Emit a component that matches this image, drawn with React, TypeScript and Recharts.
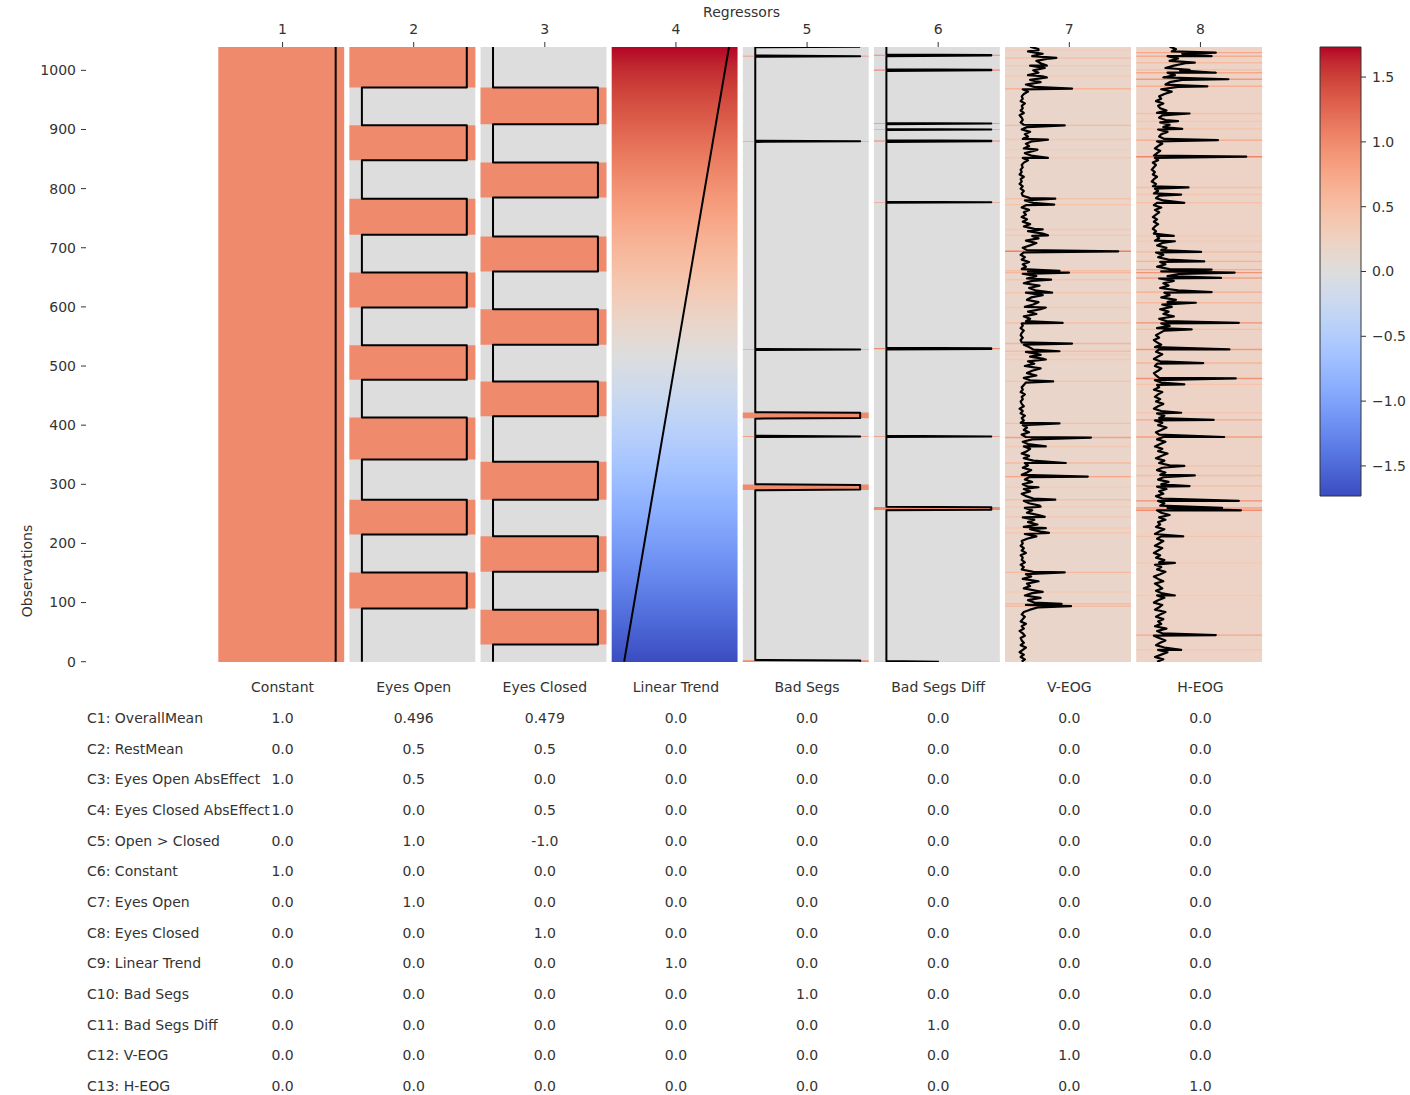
import React from "react";
import { ComposedChart, Line, XAxis, YAxis, ReferenceArea } from "recharts";

// ---- design matrix data ----
const N_OBS = 1040;
const VMAX = 1.732;

const regressorNames = ["Constant", "Eyes Open", "Eyes Closed", "Linear Trend", "Bad Segs", "Bad Segs Diff", "V-EOG", "H-EOG"];
const regressorTicks = [1, 2, 3, 4, 5, 6, 7, 8];
const obsTicks = [0, 100, 200, 300, 400, 500, 600, 700, 800, 900, 1000];
const colorbarTicks = [-1.5, -1, -0.5, 0, 0.5, 1, 1.5];

const constantLevel = 1;

// [first, last] observation of each block
const eyesOpenBlocks = [[90, 151], [215, 274], [342, 413], [477, 535], [599, 658], [722, 783], [848, 907], [971, 1040]];
const eyesClosedBlocks = [[29, 88], [152, 212], [274, 338], [415, 474], [536, 596], [660, 719], [785, 844], [909, 971]];

// z-scored linear trend at first and last observation
const trendRange = [-1.732, 1.732];

// [first, last, value]
const badSegs = [[0, 2, 1], [291, 299, 1], [381, 381, 1], [412, 421, 1], [528, 528, 1], [880, 880, 1], [1024, 1024, 1], [1040, 1040, 1]];
const badSegsDiff = [[0, 0, 0.5], [257, 261, 1], [381, 381, 1], [529, 530, 1], [777, 777, 1], [880, 881, 1], [900, 900, 1], [910, 910, 1], [1000, 1001, 1], [1025, 1026, 1]];

// EOG: normalised amplitude every eogStep observations, plus single-sample spikes [obs, value]
const eogStep = 4;
const vEogBase = [
  0.04, 0.07, 0.03, 0.06, 0.02, 0.05, 0.08, 0.03, 0.06, 0.04,
  0.03, 0.07, 0.05, 0.02, 0.06, 0.04, 0.08, 0.03, 0.05, 0.07,
  0.04, 0.06, 0.12, 0.2, 0.08, 0.16, 0.1, 0.22, 0.07, 0.14,
  0.18, 0.06, 0.12, 0.09, 0.2, 0.05, 0.13, 0.08, 0.15, 0.04,
  0.06, 0.03, 0.07, 0.04, 0.05, 0.03, 0.08, 0.04, 0.06, 0.03,
  0.05, 0.04, 0.09, 0.18, 0.07, 0.22, 0.12, 0.06, 0.19, 0.1,
  0.16, 0.05, 0.2, 0.09, 0.14, 0.07, 0.21, 0.11, 0.06, 0.15,
  0.08, 0.04, 0.12, 0.06, 0.1, 0.05, 0.14, 0.07, 0.11, 0.04,
  0.09, 0.13, 0.05, 0.1, 0.07, 0.15, 0.06, 0.11, 0.04, 0.09,
  0.12, 0.06, 0.1, 0.05, 0.14, 0.08, 0.04, 0.11, 0.06, 0.09,
  0.05, 0.03, 0.06, 0.04, 0.07, 0.03, 0.05, 0.02, 0.06, 0.04,
  0.03, 0.05, 0.04, 0.07, 0.03, 0.05, 0.04, 0.06, 0.08, 0.12,
  0.06, 0.18, 0.09, 0.14, 0.22, 0.07, 0.16, 0.1, 0.25, 0.12,
  0.2, 0.08, 0.15, 0.11, 0.06, 0.04, 0.03, 0.05, 0.03, 0.04,
  0.06, 0.03, 0.05, 0.04, 0.08, 0.12, 0.06, 0.18, 0.1, 0.22,
  0.07, 0.15, 0.2, 0.09, 0.13, 0.24, 0.08, 0.17, 0.11, 0.21,
  0.06, 0.14, 0.09, 0.18, 0.05, 0.1, 0.04, 0.08, 0.05, 0.11,
  0.04, 0.07, 0.03, 0.06, 0.09, 0.05, 0.12, 0.18, 0.08, 0.2,
  0.14, 0.24, 0.1, 0.16, 0.06, 0.12, 0.05, 0.09, 0.04, 0.08,
  0.06, 0.11, 0.04, 0.08, 0.15, 0.07, 0.12, 0.05, 0.04, 0.06,
  0.03, 0.05, 0.02, 0.04, 0.03, 0.06, 0.02, 0.04, 0.03, 0.05,
  0.04, 0.06, 0.1, 0.05, 0.13, 0.07, 0.16, 0.06, 0.11, 0.08,
  0.14, 0.05, 0.1, 0.07, 0.12, 0.04, 0.09, 0.06, 0.03, 0.05,
  0.04, 0.02, 0.06, 0.03, 0.05, 0.04, 0.07, 0.03, 0.05, 0.04,
  0.06, 0.1, 0.05, 0.16, 0.08, 0.22, 0.12, 0.28, 0.1, 0.2,
  0.15, 0.26, 0.12, 0.22, 0.18, 0.3, 0.14, 0.24, 0.1, 0.2,
  0.12,
];
const vEogSpikes = [
  [94, 0.51], [98, 0.42], [118, 0.24], [151, 0.45], [218, 0.3], [226, 0.27], [245, 0.26], [262, 0.22],
  [274, 0.36], [295, 0.2], [313, 0.67], [336, 0.46], [364, 0.27], [379, 0.7], [403, 0.4], [474, 0.34],
  [511, 0.27], [519, 0.22], [525, 0.4], [538, 0.52], [573, 0.43], [599, 0.27], [624, 0.33], [646, 0.32],
  [658, 0.49], [661, 0.4], [694, 0.96], [721, 0.29], [731, 0.24], [773, 0.35], [783, 0.36], [852, 0.29],
  [866, 0.19], [883, 0.29], [907, 0.45], [969, 0.52], [990, 0.24], [1008, 0.28], [1021, 0.37], [1034, 0.2],
];
const hEogBase = [
  0.08, 0.14, 0.06, 0.12, 0.18, 0.09, 0.15, 0.07, 0.11, 0.16,
  0.1, 0.05, 0.13, 0.08, 0.17, 0.06, 0.12, 0.09, 0.14, 0.07,
  0.11, 0.16, 0.06, 0.1, 0.13, 0.05, 0.09, 0.15, 0.08, 0.12,
  0.07, 0.13, 0.1, 0.06, 0.14, 0.09, 0.05, 0.11, 0.16, 0.08,
  0.12, 0.06, 0.1, 0.15, 0.07, 0.11, 0.05, 0.09, 0.13, 0.06,
  0.1, 0.14, 0.08, 0.12, 0.06, 0.1, 0.15, 0.07, 0.11, 0.09,
  0.16, 0.1, 0.2, 0.12, 0.08, 0.18, 0.11, 0.15, 0.09, 0.13,
  0.07, 0.14, 0.1, 0.17, 0.08, 0.12, 0.19, 0.09, 0.14, 0.11,
  0.16, 0.08, 0.13, 0.2, 0.1, 0.15, 0.07, 0.12, 0.18, 0.09,
  0.13, 0.06, 0.11, 0.16, 0.08, 0.14, 0.1, 0.07, 0.12, 0.17,
  0.09, 0.13, 0.06, 0.1, 0.15, 0.08, 0.12, 0.05, 0.09, 0.14,
  0.07, 0.11, 0.06, 0.09, 0.13, 0.05, 0.1, 0.08, 0.12, 0.06,
  0.1, 0.07, 0.05, 0.09, 0.12, 0.06, 0.08, 0.11, 0.05, 0.09,
  0.13, 0.07, 0.1, 0.06, 0.12, 0.08, 0.05, 0.1, 0.07, 0.11,
  0.15, 0.08, 0.2, 0.12, 0.17, 0.1, 0.24, 0.14, 0.19, 0.11,
  0.22, 0.13, 0.18, 0.26, 0.12, 0.2, 0.15, 0.28, 0.11, 0.19,
  0.14, 0.24, 0.1, 0.18, 0.3, 0.12, 0.2, 0.08, 0.16, 0.11,
  0.19, 0.09, 0.14, 0.07, 0.12, 0.17, 0.08, 0.13, 0.06, 0.1,
  0.08, 0.05, 0.07, 0.04, 0.06, 0.09, 0.05, 0.08, 0.04, 0.07,
  0.1, 0.06, 0.12, 0.05, 0.08, 0.14, 0.07, 0.1, 0.05, 0.09,
  0.06, 0.04, 0.07, 0.03, 0.05, 0.08, 0.04, 0.06, 0.03, 0.05,
  0.07, 0.04, 0.09, 0.06, 0.05, 0.08, 0.11, 0.06, 0.09, 0.13,
  0.08, 0.15, 0.1, 0.12, 0.18, 0.09, 0.14, 0.2, 0.11, 0.16,
  0.1, 0.13, 0.08, 0.17, 0.11, 0.09, 0.14, 0.07, 0.12, 0.1,
  0.15, 0.22, 0.12, 0.28, 0.16, 0.2, 0.32, 0.14, 0.25, 0.18,
  0.3, 0.16, 0.24, 0.35, 0.2, 0.28, 0.18, 0.32, 0.22, 0.26,
  0.2,
];
const hEogSpikes = [
  [20, 0.31], [45, 0.64], [112, 0.25], [167, 0.25], [212, 0.33], [256, 0.88], [260, 0.7], [272, 0.86],
  [297, 0.39], [315, 0.44], [331, 0.34], [380, 0.72], [409, 0.62], [421, 0.31], [469, 0.34], [479, 0.83],
  [505, 0.52], [528, 0.77], [562, 0.41], [573, 0.86], [607, 0.45], [625, 0.6], [649, 0.69], [658, 0.82],
  [663, 0.6], [677, 0.53], [693, 0.5], [711, 0.25], [720, 0.24], [776, 0.34], [790, 0.31], [802, 0.38],
  [854, 0.93], [882, 0.66], [901, 0.32], [914, 0.28], [927, 0.39], [973, 0.56], [985, 0.76], [996, 0.64],
  [1001, 0.39], [1013, 0.44], [1024, 0.6], [1030, 0.64],
];
const EOG_HEAT_OFFSET = 0.1;

// contrasts table
const contrastNames = [
  "C1: OverallMean", "C2: RestMean", "C3: Eyes Open AbsEffect", "C4: Eyes Closed AbsEffect", "C5: Open > Closed",
  "C6: Constant", "C7: Eyes Open", "C8: Eyes Closed", "C9: Linear Trend", "C10: Bad Segs", "C11: Bad Segs Diff",
  "C12: V-EOG", "C13: H-EOG",
];
const contrastWeights = [
  [1, 0.496, 0.479, 0, 0, 0, 0, 0],
  [0, 0.5, 0.5, 0, 0, 0, 0, 0],
  [1, 0.5, 0, 0, 0, 0, 0, 0],
  [1, 0, 0.5, 0, 0, 0, 0, 0],
  [0, 1, -1, 0, 0, 0, 0, 0],
  [1, 0, 0, 0, 0, 0, 0, 0],
  [0, 1, 0, 0, 0, 0, 0, 0],
  [0, 0, 1, 0, 0, 0, 0, 0],
  [0, 0, 0, 1, 0, 0, 0, 0],
  [0, 0, 0, 0, 1, 0, 0, 0],
  [0, 0, 0, 0, 0, 1, 0, 0],
  [0, 0, 0, 0, 0, 0, 1, 0],
  [0, 0, 0, 0, 0, 0, 0, 1],
];

// ---- colour map (coolwarm) ----
const CW = [
  [59, 76, 192], [68, 90, 204], [77, 104, 215], [87, 117, 225], [98, 130, 234], [108, 142, 241], [119, 154, 247],
  [130, 165, 251], [141, 176, 254], [152, 185, 255], [163, 194, 255], [174, 201, 253], [184, 208, 249],
  [194, 213, 244], [204, 217, 238], [213, 219, 230], [221, 221, 221], [229, 216, 209], [236, 211, 197],
  [241, 204, 184], [245, 196, 172], [247, 187, 160], [247, 177, 148], [247, 166, 135], [244, 154, 123],
  [241, 141, 111], [236, 127, 99], [229, 112, 88], [222, 96, 77], [213, 80, 66], [203, 62, 56], [192, 40, 47],
  [180, 4, 38],
];

function coolwarm(value: number) {
  const t = Math.min(1, Math.max(0, (value + VMAX) / (2 * VMAX)));
  const p = t * (CW.length - 1);
  const i = Math.min(CW.length - 2, Math.floor(p));
  const f = p - i;
  const c = CW[i].map((a, j) => Math.round(a + (CW[i + 1][j] - a) * f));
  return `rgb(${c[0]},${c[1]},${c[2]})`;
}

const median = (xs: number[]) => {
  const s = [...xs].sort((a, b) => a - b);
  return s[Math.floor(s.length / 2)];
};

// ---- layout ----
const PLOT_LEFT = 217;
const PLOT_RIGHT = 1266;
const TEXT = "#333";
const colLeft = (k: number) => k - 0.49;
const colRight = (k: number) => k + 0.47;
const traceX = (k: number, v: number) => k - 0.395 + 0.8 * v;
const colCenterPx = (k: number) => PLOT_LEFT + (k - 0.5) * ((PLOT_RIGHT - PLOT_LEFT) / 8);

type Pt = { x: number; obs: number };
type Cell = { col: number; y1: number; y2: number; fill: string };

function boxcarTrace(col: number, blocks: number[][]): Pt[] {
  const p = (obs: number, v: number) => ({ x: traceX(col, v), obs });
  const pts: Pt[] = [p(0, 0)];
  blocks.forEach(([a, b]) => {
    pts.push(p(a, 0), p(a, 1), p(b, 1));
    if (b < N_OBS) pts.push(p(b, 0));
  });
  if (blocks[blocks.length - 1][1] < N_OBS) pts.push(p(N_OBS, 0));
  return pts;
}

function eventTrace(col: number, events: number[][]): Pt[] {
  const p = (obs: number, v: number) => ({ x: traceX(col, v), obs });
  const pts: Pt[] = [];
  if (events[0][0] > 0) pts.push(p(0, 0));
  events.forEach(([s, e, v]) => {
    if (s > 0) pts.push(p(s - 1, 0));
    pts.push(p(s, v));
    if (e > s) pts.push(p(e, v));
    if (e < N_OBS) pts.push(p(e + 1, 0));
  });
  if (events[events.length - 1][1] < N_OBS) pts.push(p(N_OBS, 0));
  return pts;
}

function eogSamples(base: number[], spikes: number[][]) {
  return [...base.map((v, i) => [i * eogStep, v]), ...spikes].sort((a, b) => a[0] - b[0]);
}

const vEog = eogSamples(vEogBase, vEogSpikes);
const hEog = eogSamples(hEogBase, hEogSpikes);

const traces: Pt[][] = [
  [{ x: traceX(1, constantLevel), obs: 0 }, { x: traceX(1, constantLevel), obs: N_OBS }],
  boxcarTrace(2, eyesOpenBlocks),
  boxcarTrace(3, eyesClosedBlocks),
  [{ x: traceX(4, 0), obs: 0 }, { x: traceX(4, 1), obs: N_OBS }],
  eventTrace(5, badSegs),
  eventTrace(6, badSegsDiff),
  vEog.map(([o, v]) => ({ x: traceX(7, v), obs: o })),
  hEog.map(([o, v]) => ({ x: traceX(8, v), obs: o })),
];

const cells: Cell[] = [];
const full = (col: number, fill: string) => cells.push({ col, y1: -0.5, y2: N_OBS - 0.5, fill });
full(1, coolwarm(constantLevel));
full(2, coolwarm(0));
eyesOpenBlocks.forEach(([a, b]) => cells.push({ col: 2, y1: a, y2: b, fill: coolwarm(1) }));
full(3, coolwarm(0));
eyesClosedBlocks.forEach(([a, b]) => cells.push({ col: 3, y1: a, y2: b, fill: coolwarm(1) }));
full(4, "url(#trendGrad)");
full(5, coolwarm(0));
badSegs.forEach(([s, e, v]) => cells.push({ col: 5, y1: s - 0.5, y2: e + 0.5, fill: coolwarm(v) }));
full(6, coolwarm(0));
badSegsDiff.forEach(([s, e, v]) => cells.push({ col: 6, y1: s - 0.5, y2: e + 0.5, fill: coolwarm(v) }));
[[7, vEogBase, vEogSpikes], [8, hEogBase, hEogSpikes]].forEach(([col, base, spikes]: any) => {
  full(col, coolwarm(EOG_HEAT_OFFSET + median(base)));
  spikes.forEach(([o, v]: number[]) => cells.push({ col, y1: o - 1.2, y2: o + 1.2, fill: coolwarm(EOG_HEAT_OFFSET + v) }));
});

const gradientStops = (lo: number, hi: number) =>
  CW.map((_, i) => {
    const t = i / (CW.length - 1);
    return <stop key={i} offset={t} stopColor={coolwarm(lo + (hi - lo) * t)} />;
  });

const fmtWeight = (v: number) => (Number.isInteger(v) ? v.toFixed(1) : String(v));
const fmtMinus = (v: number) => (v < 0 ? "\u2212" + Math.abs(v).toFixed(1) : v.toFixed(1));

const renderObsTick = (props: any) => {
  const { y, payload } = props;
  return (
    <g>
      <text x={76} y={y} dy="0.35em" textAnchor="end" fill={TEXT} fontSize={14}>
        {payload.value}
      </text>
      <line x1={81} x2={86} y1={y} y2={y} stroke={TEXT} strokeWidth={1} />
    </g>
  );
};

export default function App() {
  return (
    <div style={{ position: "absolute", left: 0, top: 0, width: 1410, height: 1095, background: "#fff", fontFamily: '"DejaVu Sans", sans-serif' }}>
      <div style={{ position: "absolute", left: 0, top: 0 }}>
        <ComposedChart width={1410} height={700} margin={{ top: 20, right: 144, bottom: 38, left: 157 }}>
          <defs>
            <linearGradient id="trendGrad" x1="0" y1="1" x2="0" y2="0">
              {gradientStops(trendRange[0], trendRange[1])}
            </linearGradient>
          </defs>
          <XAxis
            type="number"
            dataKey="x"
            orientation="top"
            domain={[0.5, 8.5]}
            ticks={regressorTicks}
            allowDataOverflow
            height={27}
            axisLine={false}
            tickSize={5}
            tickMargin={8}
            tickLine={{ stroke: TEXT }}
            tick={{ fill: TEXT, fontSize: 14 }}
          />
          <YAxis
            type="number"
            domain={[-0.5, N_OBS - 0.5]}
            ticks={obsTicks}
            allowDataOverflow
            width={60}
            axisLine={false}
            tickLine={false}
            tick={renderObsTick}
          />
          {cells.map((c, i) => (
            <ReferenceArea
              key={`cell-${i}`}
              x1={colLeft(c.col)}
              x2={colRight(c.col)}
              y1={c.y1}
              y2={c.y2}
              fill={c.fill}
              fillOpacity={1}
              stroke="none"
              ifOverflow="hidden"
            />
          ))}
          {traces.map((d, i) => (
            <Line
              key={`trace-${i}`}
              data={d}
              dataKey="obs"
              type="linear"
              stroke="#000"
              strokeWidth={i >= 6 ? 2.2 : 2}
              strokeLinejoin="round"
              dot={false}
              activeDot={false}
              isAnimationActive={false}
            />
          ))}
        </ComposedChart>
      </div>

      <div style={{ position: "absolute", left: 1300, top: 0 }}>
        <ComposedChart width={110} height={520} margin={{ top: 47, right: 9, bottom: 24, left: 20 }}>
          <defs>
            <linearGradient id="cbarGrad" x1="0" y1="1" x2="0" y2="0">
              {gradientStops(-VMAX, VMAX)}
            </linearGradient>
          </defs>
          <XAxis type="number" dataKey="x" domain={[0, 1]} hide allowDataOverflow />
          <YAxis
            type="number"
            orientation="right"
            domain={[-VMAX, VMAX]}
            ticks={colorbarTicks}
            allowDataOverflow
            width={40}
            axisLine={false}
            tickSize={5}
            tickMargin={6}
            tickLine={{ stroke: TEXT }}
            tick={{ fill: TEXT, fontSize: 14 }}
            tickFormatter={fmtMinus}
          />
          <ReferenceArea x1={0} x2={1} y1={-VMAX} y2={VMAX} fill="url(#cbarGrad)" fillOpacity={1} stroke={TEXT} strokeWidth={1} />
        </ComposedChart>
      </div>

      <svg width={1410} height={1095} style={{ position: "absolute", left: 0, top: 0, pointerEvents: "none" }}>
        <text x={(PLOT_LEFT + PLOT_RIGHT) / 2} y={12} textAnchor="middle" dominantBaseline="central" fill={TEXT} fontSize={14}>
          Regressors
        </text>
        <text x={27} y={571} transform="rotate(-90 27 571)" textAnchor="middle" dominantBaseline="central" fill={TEXT} fontSize={14}>
          Observations
        </text>
        {regressorNames.map((name, k) => (
          <text key={name} x={colCenterPx(k + 1)} y={687} textAnchor="middle" dominantBaseline="central" fill={TEXT} fontSize={14}>
            {name}
          </text>
        ))}
        {contrastNames.map((name, r) => {
          const y = 718 + r * 30.67;
          return (
            <g key={name}>
              <text x={87} y={y} dominantBaseline="central" fill={TEXT} fontSize={14}>
                {name}
              </text>
              {contrastWeights[r].map((w, k) => (
                <text key={k} x={colCenterPx(k + 1)} y={y} textAnchor="middle" dominantBaseline="central" fill={TEXT} fontSize={14}>
                  {fmtWeight(w)}
                </text>
              ))}
            </g>
          );
        })}
      </svg>
    </div>
  );
}
